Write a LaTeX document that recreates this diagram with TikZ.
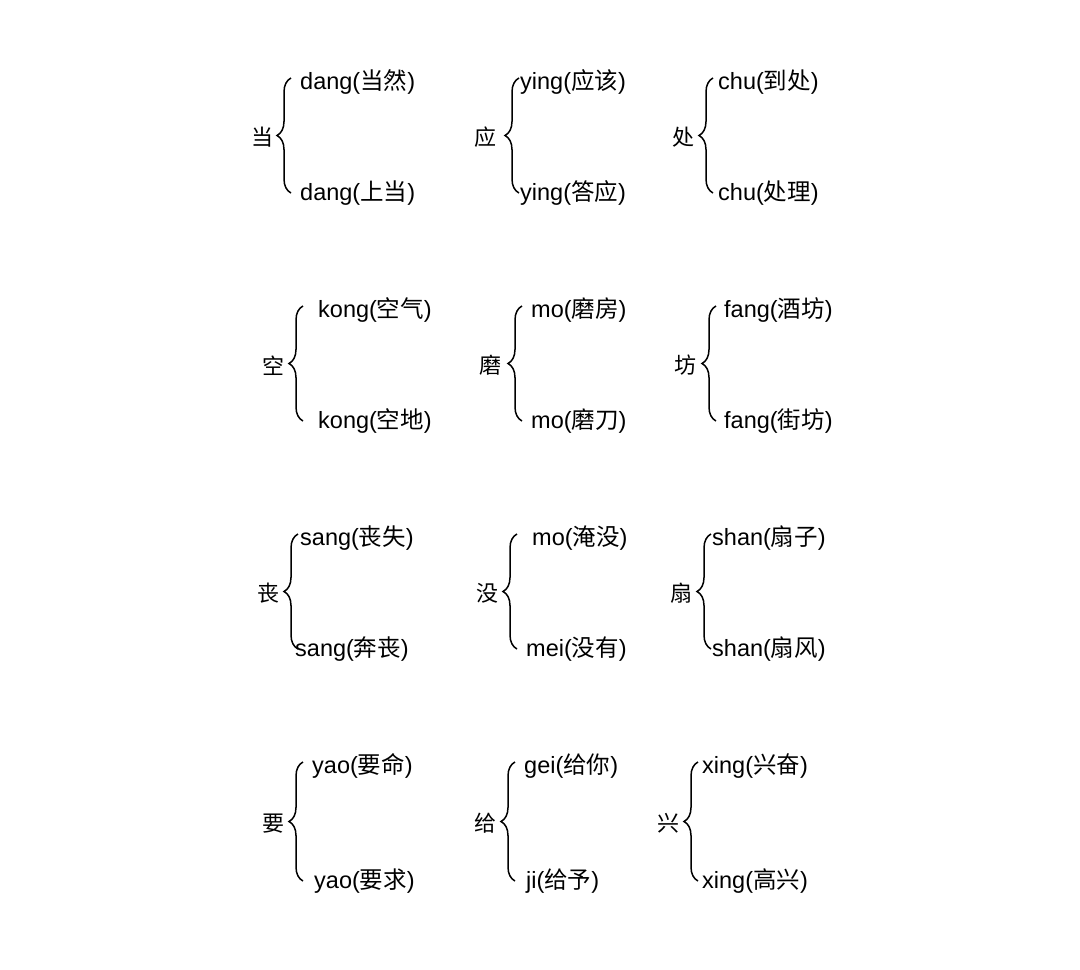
\documentclass[tikz,border=0pt]{standalone}
\usepackage{fontspec}
\setmainfont{Liberation Sans}
\newfontfamily\cjk{Noto Sans CJK SC}
\usetikzlibrary{decorations.pathreplacing}

\begin{document}
\begin{tikzpicture}[x=1pt,y=-1pt,
	word/.style={anchor=west,inner sep=0pt,font=\fontsize{23.5}{28}\selectfont},
	head/.style={inner sep=0pt,font=\cjk\fontsize{22}{26}\selectfont},
	curly/.style={decorate,decoration={brace,amplitude=14pt},line width=1.5pt}]
	\useasboundingbox (0,0) rectangle (1080,970);
	\foreach \n/\cx/\bx/\tx/\ux/\t/\u/\ch/\hi/\lo in {
		1/262/291/300/300/82/193/当/dang({\cjk 当然})/dang({\cjk 上当}),
		2/485/519/520/520/82/193/应/ying({\cjk 应该})/ying({\cjk 答应}),
		3/683/713/718/718/82/193/处/chu({\cjk 到处})/chu({\cjk 处理}),
		4/273/303/318/318/310/421/空/kong({\cjk 空气})/kong({\cjk 空地}),
		5/490/522/531/531/310/421/磨/mo({\cjk 磨房})/mo({\cjk 磨刀}),
		6/685/716/724/724/310/421/坊/fang({\cjk 酒坊})/fang({\cjk 街坊}),
		7/268/298/300/295/538/649/丧/sang({\cjk 丧失})/sang({\cjk 奔丧}),
		8/487/517/532/526/538/649/没/mo({\cjk 淹没})/mei({\cjk 没有}),
		9/681/711/712/712/538/649/扇/shan({\cjk 扇子})/shan({\cjk 扇风}),
		10/273/303/312/314/766/881/要/yao({\cjk 要命})/yao({\cjk 要求}),
		11/485/515/524/526/766/881/给/gei({\cjk 给你})/ji({\cjk 给予}),
		12/668/698/702/702/766/881/兴/xing({\cjk 兴奋})/xing({\cjk 高兴})}
	{
		\node[head] (c\n) at ({\cx},{(\t+\u)/2}) {\ch};
		\coordinate (a\n) at (\bx,\t-4);
		\coordinate (b\n) at (\bx,\u);
		\draw[curly] (b\n) -- (a\n);
		\node[word] (p\n) at (\tx,\t) {\hi};
		\node[word] (q\n) at (\ux,\u) {\lo};
	}
\end{tikzpicture}
\end{document}
